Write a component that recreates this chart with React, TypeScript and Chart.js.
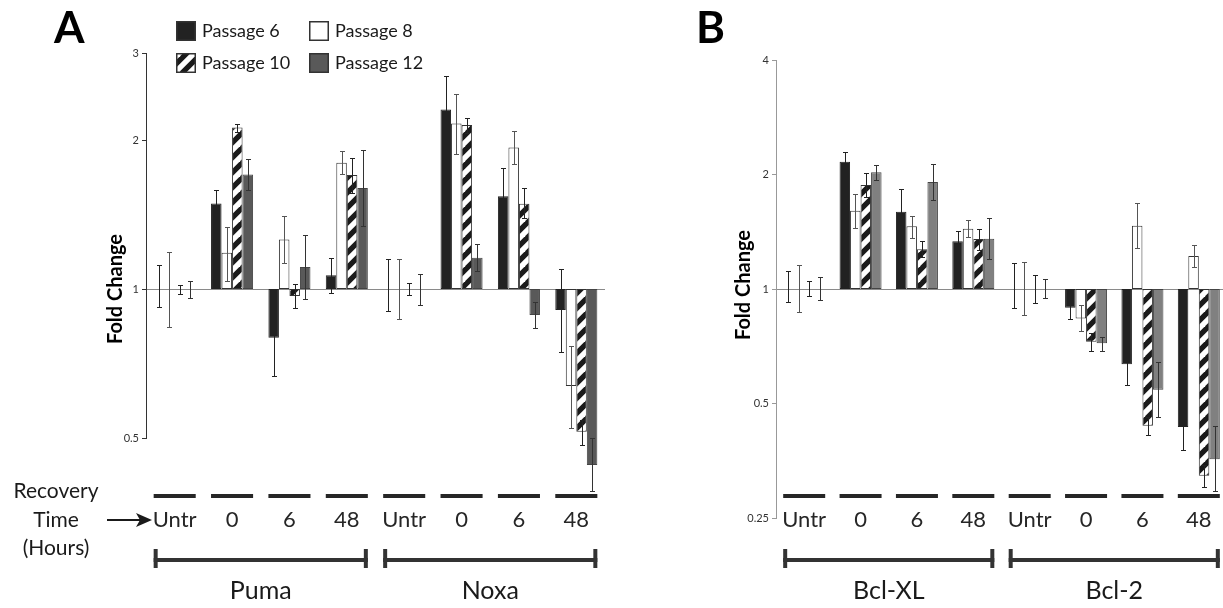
import React, { useEffect, useRef } from 'react';
import { Chart, registerables } from 'chart.js';

Chart.register(...registerables);

// ---------- shared labels ----------
const timeLabels = ['Untr', '0', '6', '48', 'Untr', '0', '6', '48'];
const seriesNames = ['Passage 6', 'Passage 8', 'Passage 10', 'Passage 12'];
const recoveryLines = ['Recovery', 'Time', '(Hours)'];

// ---------- Panel A (Puma, Noxa) ----------
const panelAGenes = ['Puma', 'Noxa'];
const panelATicks = [0.5, 1, 2, 3];

const aP6 = [1, 1.49, 0.797, 1.066, 1, 2.307, 1.541, 0.907];
const aP6Lo = [0.921, 1.411, 0.667, 0.983, 0.901, 1.984, 1.351, 0.747];
const aP6Hi = [1.118, 1.585, 0.958, 1.155, 1.15, 2.69, 1.753, 1.096];

const aP8 = [1, 1.184, 1.26, 1.8, 1, 2.162, 1.933, 0.637];
const aP8Lo = [0.839, 1.038, 1.127, 1.707, 0.87, 1.874, 1.791, 0.525];
const aP8Hi = [1.19, 1.336, 1.406, 1.903, 1.15, 2.477, 2.083, 0.768];

const aP10 = [1, 2.12, 0.968, 1.7, 1, 2.145, 1.487, 0.515];
const aP10Lo = [0.977, 2.08, 0.914, 1.565, 0.974, 2.07, 1.389, 0.484];
const aP10Hi = [1.017, 2.16, 1.022, 1.842, 1.027, 2.219, 1.602, 0.544];

const aP12 = [1, 1.705, 1.108, 1.6, 1, 1.157, 0.886, 0.441];
const aP12Lo = [0.958, 1.585, 0.953, 1.342, 0.928, 1.086, 0.835, 0.391];
const aP12Hi = [1.039, 1.83, 1.285, 1.909, 1.074, 1.235, 0.943, 0.499];

// ---------- Panel B (Bcl-XL, Bcl-2) ----------
const panelBGenes = ['Bcl-XL', 'Bcl-2'];
const panelBTicks = [0.25, 0.5, 1, 2, 4];

const bP6 = [1, 2.161, 1.597, 1.335, 1, 0.893, 0.634, 0.434];
const bP6Lo = [0.926, 2.047, 1.393, 1.253, 0.893, 0.834, 0.558, 0.377];
const bP6Hi = [1.117, 2.292, 1.829, 1.423, 1.168, 0.945, 0.724, 0.504];

const bP8 = [1, 1.607, 1.462, 1.441, 1, 0.837, 1.467, 1.221];
const bP8Lo = [0.868, 1.444, 1.364, 1.367, 0.854, 0.777, 1.279, 1.14];
const bP8Hi = [1.156, 1.777, 1.558, 1.518, 1.18, 0.906, 1.686, 1.305];

const bP10 = [1, 1.877, 1.272, 1.354, 1, 0.727, 0.437, 0.323];
const bP10Lo = [0.958, 1.749, 1.211, 1.266, 0.92, 0.687, 0.412, 0.302];
const bP10Hi = [1.051, 2.022, 1.335, 1.441, 1.09, 0.766, 0.46, 0.345];

const bP12 = [1, 2.027, 1.911, 1.356, 1, 0.72, 0.543, 0.357];
const bP12Lo = [0.936, 1.935, 1.711, 1.197, 0.945, 0.688, 0.461, 0.295];
const bP12Hi = [1.073, 2.123, 2.135, 1.537, 1.06, 0.749, 0.643, 0.437];

const FONT = 'Lato, "Open Sans", sans-serif';

type Series = { values: number[]; lo: number[]; hi: number[] };

type PanelCfg = {
  letter: string;
  letterX: number;
  genes: string[];
  ticks: number[];
  min: number;
  max: number;
  series: Series[];
  axisWidth: number;
  padRight: number;
  padTop: number;
  padBottom: number;
  catPct: number;
  axisColor: string;
  p12Color: string;
  titleX: number;
  titleY: number;
  showLegend: boolean;
  showRecovery: boolean;
};

function makeHatch(): CanvasPattern | string {
  const P = 15;
  const c = document.createElement('canvas');
  c.width = P;
  c.height = P;
  const g = c.getContext('2d');
  if (!g) return '#555';
  g.fillStyle = '#ffffff';
  g.fillRect(0, 0, P, P);
  g.strokeStyle = '#1a1a1a';
  g.lineWidth = P / (2 * Math.SQRT2);
  for (const k of [0, 1, 2]) {
    const cc = k * P;
    g.beginPath();
    g.moveTo(cc + 6, -6);
    g.lineTo(cc - P - 6, P + 6);
    g.stroke();
  }
  const pat = g.createPattern(c, 'repeat');
  return pat || '#555';
}

function buildChart(canvas: HTMLCanvasElement, cfg: PanelCfg): Chart {
  const hatch = makeHatch();
  const fills = ['#222222', '#ffffff', hatch, cfg.p12Color];
  const borders = ['#222222', '#333333', '#333333', '#444444'];
  const errColors = ['#222222', '#555555', '#222222', '#333333'];

  const datasets = cfg.series.map((s, d) => ({
    label: seriesNames[d],
    data: s.values.map((v) => (v === 1 ? null : [1, v])),
    backgroundColor: fills[d],
    borderColor: borders[d],
    borderWidth: 1,
    borderSkipped: false,
    categoryPercentage: cfg.catPct,
    barPercentage: 1,
    clip: false,
  }));

  const errorPlugin = {
    id: 'errbars' + cfg.letter,
    afterDatasetsDraw(chart: any) {
      const ctx = chart.ctx;
      const xs = chart.scales.x;
      const ys = chart.scales.y;
      const cw = xs.getPixelForValue(1) - xs.getPixelForValue(0);
      const gw = cw * cfg.catPct;
      const bw = gw / 4;
      ctx.save();
      ctx.lineWidth = 1;
      cfg.series.forEach((s, d) => {
        ctx.strokeStyle = errColors[d];
        s.lo.forEach((lo, i) => {
          const x = Math.round(xs.getPixelForValue(i) - gw / 2 + bw * (d + 0.5)) + 0.5;
          const y0 = Math.round(ys.getPixelForValue(lo)) + 0.5;
          const y1 = Math.round(ys.getPixelForValue(s.hi[i])) + 0.5;
          ctx.beginPath();
          ctx.moveTo(x, y0);
          ctx.lineTo(x, y1);
          ctx.moveTo(x - 2.5, y0);
          ctx.lineTo(x + 2.5, y0);
          ctx.moveTo(x - 2.5, y1);
          ctx.lineTo(x + 2.5, y1);
          ctx.stroke();
        });
      });
      ctx.restore();
    },
  };

  const annotPlugin = {
    id: 'annot' + cfg.letter,
    afterDraw(chart: any) {
      const ctx = chart.ctx;
      const xs = chart.scales.x;
      const cw = xs.getPixelForValue(1) - xs.getPixelForValue(0);
      const gw = cw * cfg.catPct;
      ctx.save();
      ctx.fillStyle = '#262626';
      ctx.textAlign = 'center';
      ctx.textBaseline = 'middle';
      // dashes + time labels
      timeLabels.forEach((t, i) => {
        const cx = xs.getPixelForValue(i);
        ctx.fillRect(cx - gw / 2, 494, gw, 4);
        ctx.font = `22px ${FONT}`;
        ctx.fillText(t, cx, 520);
      });
      // gene brackets
      cfg.genes.forEach((gname, j) => {
        const x0 = xs.getPixelForValue(j * 4) - gw / 2;
        const x1 = xs.getPixelForValue(j * 4 + 3) + gw / 2;
        ctx.fillStyle = '#333333';
        ctx.fillRect(x0, 558, x1 - x0, 4);
        ctx.fillRect(x0, 549, 4, 19);
        ctx.fillRect(x1 - 4, 549, 4, 19);
        ctx.fillStyle = '#1a1a1a';
        ctx.font = `25px ${FONT}`;
        ctx.fillText(gname, (x0 + x1) / 2, 591);
      });
      // panel letter
      ctx.textAlign = 'left';
      ctx.textBaseline = 'alphabetic';
      ctx.fillStyle = '#000000';
      ctx.font = `bold 44px ${FONT}`;
      ctx.fillText(cfg.letter, cfg.letterX, 43);
      // y title
      ctx.save();
      ctx.translate(cfg.titleX, cfg.titleY);
      ctx.rotate(-Math.PI / 2);
      ctx.textAlign = 'center';
      ctx.textBaseline = 'middle';
      ctx.font = `bold 20px ${FONT}`;
      ctx.fillText('Fold Change', 0, 0);
      ctx.restore();
      // recovery time text + arrow
      if (cfg.showRecovery) {
        ctx.fillStyle = '#1a1a1a';
        ctx.textAlign = 'center';
        ctx.textBaseline = 'middle';
        ctx.font = `21px ${FONT}`;
        ctx.fillText(recoveryLines[0], 56, 491);
        ctx.fillText(recoveryLines[1], 56, 520);
        ctx.fillText(recoveryLines[2], 56, 548);
        ctx.strokeStyle = '#1a1a1a';
        ctx.lineWidth = 2;
        ctx.beginPath();
        ctx.moveTo(107, 520);
        ctx.lineTo(142, 520);
        ctx.stroke();
        ctx.beginPath();
        ctx.moveTo(152, 520);
        ctx.lineTo(136, 513);
        ctx.lineTo(140, 520);
        ctx.lineTo(136, 527);
        ctx.closePath();
        ctx.fill();
      }
      // legend
      if (cfg.showLegend) {
        const pos = [
          [176, 21],
          [309, 21],
          [176, 53],
          [309, 53],
        ];
        ctx.textAlign = 'left';
        ctx.textBaseline = 'middle';
        ctx.font = `18px ${FONT}`;
        pos.forEach(([lx, ly], d) => {
          ctx.fillStyle = fills[d] as any;
          ctx.fillRect(lx, ly, 20, 20);
          ctx.strokeStyle = '#333333';
          ctx.lineWidth = 1.5;
          ctx.strokeRect(lx + 0.75, ly + 0.75, 18.5, 18.5);
          ctx.fillStyle = '#1a1a1a';
          ctx.fillText(seriesNames[d], lx + 26, ly + 10);
        });
      }
      ctx.restore();
    },
  };

  return new Chart(canvas, {
    type: 'bar',
    data: { labels: timeLabels, datasets: datasets as any },
    options: {
      responsive: false,
      animation: false,
      devicePixelRatio: 1,
      layout: { padding: { left: 0, top: cfg.padTop, right: cfg.padRight, bottom: cfg.padBottom } },
      plugins: { legend: { display: false }, tooltip: { enabled: false } },
      scales: {
        x: { type: 'category', display: false, offset: true },
        y: {
          type: 'logarithmic',
          min: cfg.min,
          max: cfg.max,
          afterBuildTicks: (s: any) => {
            s.ticks = cfg.ticks.map((v) => ({ value: v }));
          },
          afterFit: (s: any) => {
            s.width = cfg.axisWidth;
          },
          ticks: {
            autoSkip: false,
            callback: (v: any) => String(v),
            font: { family: FONT, size: 11 },
            color: '#333333',
            padding: 3,
          },
          grid: {
            color: (c: any) => (c.tick && c.tick.value === 1 ? '#8a8a8a' : 'rgba(0,0,0,0)'),
            tickColor: cfg.axisColor,
            tickLength: 4,
            lineWidth: 1,
          },
          border: { display: true, color: cfg.axisColor, width: 1 },
        },
      },
    } as any,
    plugins: [errorPlugin, annotPlugin],
  });
}

const panelA: PanelCfg = {
  letter: 'A',
  letterX: 54,
  genes: panelAGenes,
  ticks: panelATicks,
  min: 0.5,
  max: 3,
  series: [
    { values: aP6, lo: aP6Lo, hi: aP6Hi },
    { values: aP8, lo: aP8Lo, hi: aP8Hi },
    { values: aP10, lo: aP10Lo, hi: aP10Hi },
    { values: aP12, lo: aP12Lo, hi: aP12Hi },
  ],
  axisWidth: 146,
  padRight: 15,
  padTop: 53,
  padBottom: 170,
  catPct: 0.733,
  axisColor: '#333333',
  p12Color: '#595959',
  titleX: 116,
  titleY: 289,
  showLegend: true,
  showRecovery: true,
};

const panelB: PanelCfg = {
  letter: 'B',
  letterX: 76,
  genes: panelBGenes,
  ticks: panelBTicks,
  min: 0.25,
  max: 4,
  series: [
    { values: bP6, lo: bP6Lo, hi: bP6Hi },
    { values: bP8, lo: bP8Lo, hi: bP8Hi },
    { values: bP10, lo: bP10Lo, hi: bP10Hi },
    { values: bP12, lo: bP12Lo, hi: bP12Hi },
  ],
  axisWidth: 156,
  padRight: 13,
  padTop: 60,
  padBottom: 90,
  catPct: 0.745,
  axisColor: '#999999',
  p12Color: '#808080',
  titleX: 124,
  titleY: 285,
  showLegend: false,
  showRecovery: false,
};

export default function App() {
  const refA = useRef<HTMLCanvasElement | null>(null);
  const refB = useRef<HTMLCanvasElement | null>(null);

  useEffect(() => {
    if (!refA.current || !refB.current) return;
    const ca = buildChart(refA.current, panelA);
    const cb = buildChart(refB.current, panelB);
    let alive = true;
    if ((document as any).fonts && (document as any).fonts.ready) {
      (document as any).fonts.ready.then(() => {
        if (alive) {
          ca.update();
          cb.update();
        }
      });
    }
    return () => {
      alive = false;
      ca.destroy();
      cb.destroy();
    };
  }, []);

  return (
    <div
      style={{
        position: 'fixed',
        left: 0,
        top: 0,
        width: 1223,
        height: 608,
        overflow: 'hidden',
        background: '#ffffff',
      }}
    >
      <canvas
        ref={refA}
        width={620}
        height={608}
        style={{ position: 'absolute', left: 0, top: 0, width: 620, height: 608 }}
      />
      <canvas
        ref={refB}
        width={620}
        height={608}
        style={{ position: 'absolute', left: 620, top: 0, width: 620, height: 608 }}
      />
    </div>
  );
}
